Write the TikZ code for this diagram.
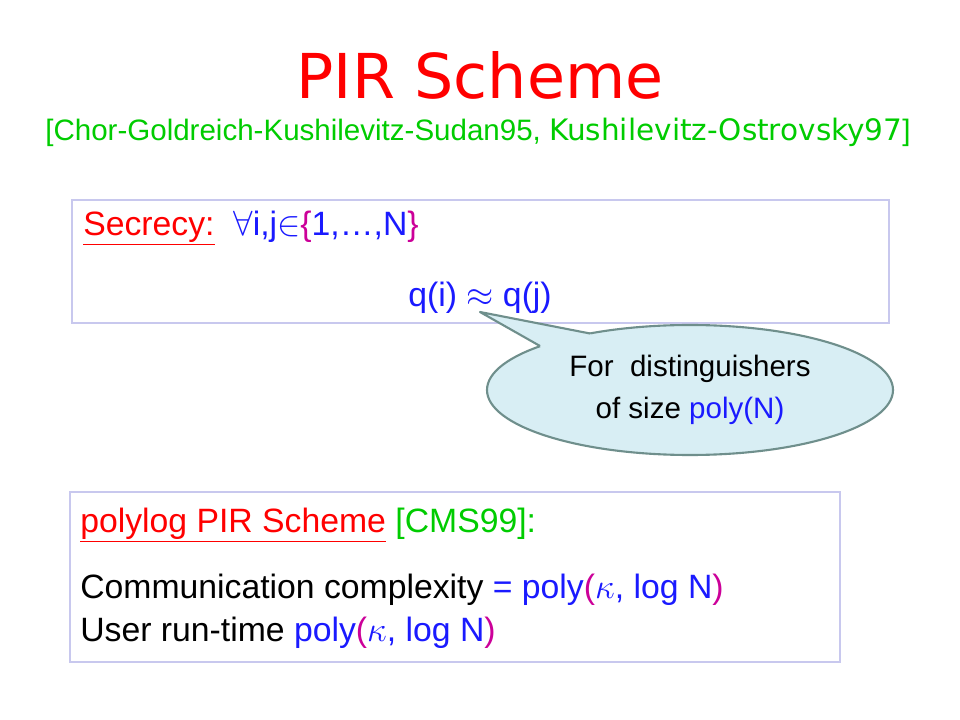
\documentclass[tikz,border=0pt]{standalone}
\usepackage{fontspec}
\setmainfont{Liberation Sans}
\newfontfamily\comicfont{DejaVu Sans}
\definecolor{myRed}{HTML}{ff0000}
\definecolor{myGreen}{HTML}{00cc00}
\definecolor{myBlue}{HTML}{1a1aff}
\definecolor{myPink}{HTML}{cc0099}
\definecolor{myFrame}{HTML}{c8c8ee}
\definecolor{myBubble}{HTML}{d8eef4}
\definecolor{myBubbleLine}{HTML}{6f8f8c}

\begin{document}
\begin{tikzpicture}[x=0.025cm, y=-0.025cm]

  \tikzstyle{F}=[draw=myFrame, line width=1.2pt]
  \tikzstyle{T}=[anchor=west, inner sep=0pt, font=\fontsize{24}{28}\selectfont]
  \tikzstyle{S}=[align=center, inner sep=0pt, font=\fontsize{21}{30}\selectfont]

  \useasboundingbox[fill=white] (0,0) rectangle (960,720);

  \node[text=myRed, font=\comicfont\fontsize{44}{50}\selectfont] at (480,75) (title) {PIR Scheme};
  \node[text=myGreen, font=\fontsize{21}{24}\selectfont] at (478,132) (cite)
    {[Chor-Goldreich-Kushilevitz-Sudan95, {\comicfont Kushilevitz-Ostrovsky97}]};

  \draw[F] (72,200) rectangle (889,323);
  \node[T] at (83,228) (secrecy) {\textcolor{myRed}{\underline{Secrecy:}}\ \ \textcolor{myBlue}{$\forall$i,j$\in$\textcolor{myPink}{\{}1,\dots,N\textcolor{myPink}{\}}}};
  \node[T, text=myBlue, anchor=center] at (480,298) (qij) {q(i) $\approx$ q(j)};

  % callout
  \draw[fill=myBubble, draw=myBubbleLine, line width=1.5pt] (690,390) ellipse [x radius=203, y radius=65];
  \fill[myBubble] (480,312) -- (540,346) -- (544,354) -- (593,341) -- (590,333.5) -- cycle;
  \draw[myBubbleLine, line width=1.5pt, line join=round] (540,346) -- (480,312) -- (590,333.5);
  \node[S] at (690,390) (dist) {For\ \ distinguishers\\of size \textcolor{myBlue}{poly(N)}};

  \draw[F] (70,492) rectangle (840,662);
  \node[T] at (80,525) (polylog) {\textcolor{myRed}{\underline{polylog PIR Scheme}} \textcolor{myGreen}{[CMS99]:}};
  \node[T] at (80,590) (comm) {Communication complexity \textcolor{myBlue}{= poly\textcolor{myPink}{(}$\kappa$, log N\textcolor{myPink}{)}}};
  \node[T] at (80,633) (user) {User run-time \textcolor{myBlue}{poly\textcolor{myPink}{(}$\kappa$, log N\textcolor{myPink}{)}}};

\end{tikzpicture}
\end{document}
